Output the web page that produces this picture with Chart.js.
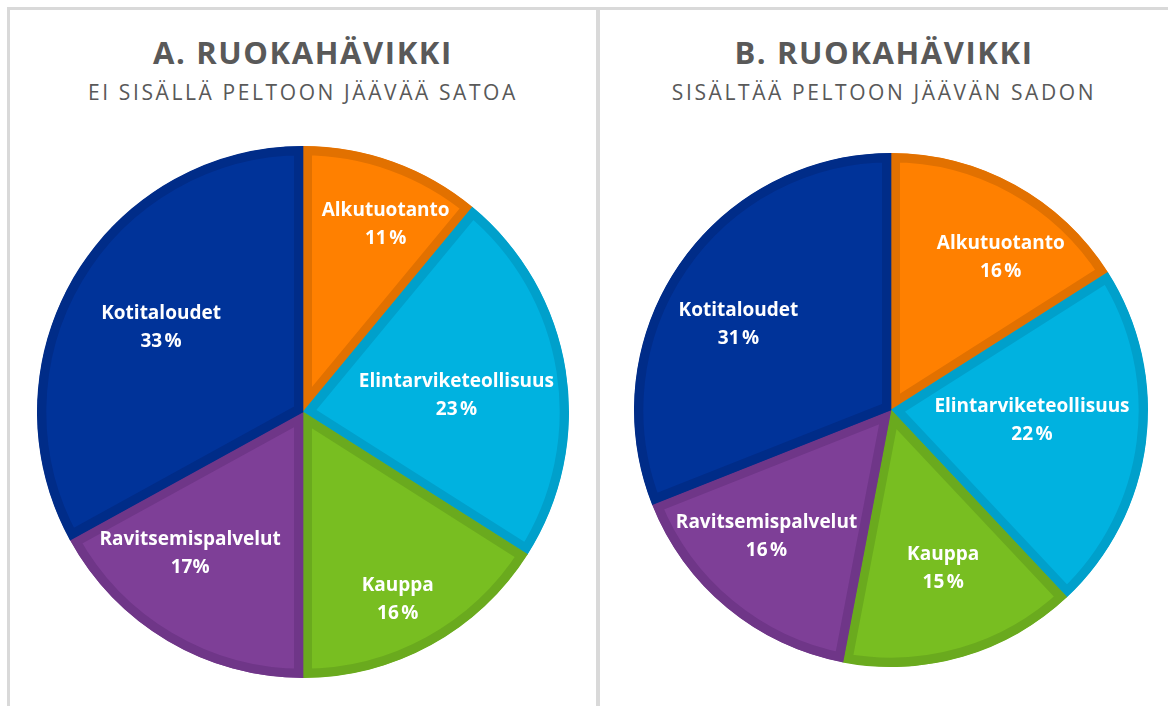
<!DOCTYPE html>
<html>
<head>
<meta charset="utf-8">
<script src="https://cdn.jsdelivr.net/npm/chart.js@4.4.1/dist/chart.umd.min.js"></script>
<style>
  body { margin: 0; background: #fff; width: 1168px; height: 706px; overflow: hidden; position: relative; font-family: "Open Sans", sans-serif; }
  .frame { position: absolute; background: #d9d9d9; }
  .title { position: absolute; text-align: center; color: #595959; }
  .title h1 { margin: 0; font-size: 31px; font-weight: 700; letter-spacing: 1.6px; line-height: 36px; }
  .title h2 { margin: 0; font-size: 21px; font-weight: 400; letter-spacing: 2.6px; line-height: 30px; margin-top: 7px; }
  canvas { position: absolute; }
</style>
</head>
<body>
<div class="frame" style="left:7px; top:7px; width:1161px; height:3px;"></div>
<div class="frame" style="left:7px; top:7px; width:3px; height:699px;"></div>
<div class="frame" style="left:596px; top:7px; width:4px; height:699px;"></div>

<div class="title" style="left:10px; width:586px; top:34px;">
  <h1>A. RUOKAHÄVIKKI</h1>
  <h2>EI SISÄLLÄ PELTOON JÄÄVÄÄ SATOA</h2>
</div>
<div class="title" style="left:600px; width:568px; top:34px;">
  <h1>B. RUOKAHÄVIKKI</h1>
  <h2>SISÄLTÄÄ PELTOON JÄÄVÄN SADON</h2>
</div>

<canvas id="pieA" width="566" height="566" style="left:20px; top:129px;"></canvas>
<canvas id="pieB" width="540" height="540" style="left:621px; top:140px;"></canvas>

<script>
// data
const categories = ['Alkutuotanto', 'Elintarviketeollisuus', 'Kauppa', 'Ravitsemispalvelut', 'Kotitaloudet']
const valuesA = [11, 23, 16, 17, 33]
const valuesB = [16, 22, 15, 16, 31]
const pctLabelsA = ['11\u202F%', '23\u202F%', '16\u202F%', '17%', '33\u202F%']
const pctLabelsB = ['16\u202F%', '22\u202F%', '15\u202F%', '16\u202F%', '31\u202F%']

// styles
const fillColors = ['#ff8000', '#00b2e0', '#78be21', '#7e3f97', '#003399']
const edgeColors = ['#e27100', '#00a0cb', '#6aaa1e', '#6f3688', '#002c88']

// label placement: fraction of radius, angle shift in degrees
const labelPosA = { r: [0.77, 0.58, 0.79, 0.68, 0.62], shift: [4, 3, 2, 8, 0] }
const labelPosB = { r: [0.73, 0.55, 0.65, 0.69, 0.68], shift: [7, -3, -2, 5, -5] }

const sliceLabels = {
    id: 'sliceLabels',
    afterDatasetsDraw(chart, args, opts) {
        const ctx = chart.ctx
        const meta = chart.getDatasetMeta(0)
        ctx.save()
        ctx.fillStyle = '#ffffff'
        ctx.font = 'bold 19px "Open Sans"'
        ctx.textAlign = 'center'
        ctx.textBaseline = 'middle'
        meta.data.forEach((arc, i) => {
            const p = arc.getProps(['x', 'y', 'startAngle', 'endAngle', 'outerRadius'], true)
            const a = (p.startAngle + p.endAngle) / 2 + opts.pos.shift[i] * Math.PI / 180
            const r = p.outerRadius * opts.pos.r[i]
            const x = p.x + Math.cos(a) * r
            const y = p.y + Math.sin(a) * r
            ctx.fillText(chart.data.labels[i], x, y - 14)
            ctx.fillText(opts.pct[i], x, y + 14)
        })
        ctx.restore()
    }
}

function makePie(id, values, radius, pos, pct)
{
    const ctx = document.getElementById(id).getContext('2d')
    return new Chart(ctx, {
        type: 'pie',
        data: {
            labels: categories,
            datasets: [{
                data: values,
                backgroundColor: fillColors,
                borderColor: edgeColors,
                borderWidth: 9,
                borderAlign: 'inner',
                borderJoinStyle: 'miter'
            }]
        },
        options: {
            responsive: false,
            animation: false,
            devicePixelRatio: 1,
            radius: radius,
            layout: { padding: 0 },
            plugins: {
                legend: { display: false },
                tooltip: { enabled: false },
                sliceLabels: { pos: pos, pct: pct }
            }
        },
        plugins: [sliceLabels]
    })
}

makePie('pieA', valuesA, 266, labelPosA, pctLabelsA)
makePie('pieB', valuesB, 257, labelPosB, pctLabelsB)
</script>
</body>
</html>
